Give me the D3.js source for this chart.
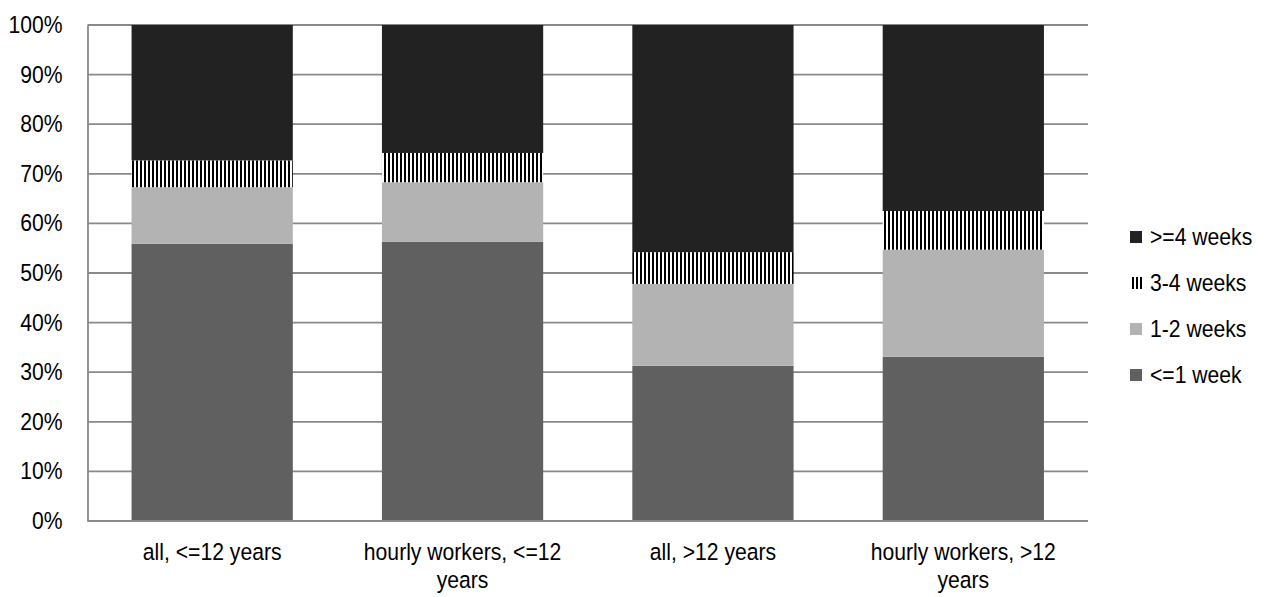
<!DOCTYPE html>
<html>
<head>
<meta charset="utf-8">
<script src="https://cdn.jsdelivr.net/npm/d3@7"></script>
<style>
  html, body { margin: 0; padding: 0; background: #fff; }
  svg text { font-family: "Liberation Sans", Arial, sans-serif; fill: #000; }
</style>
</head>
<body>
<svg id="chart" width="1270" height="597"></svg>
<script>
const categories = ["all, <=12 years", "hourly workers, <=12 years", "all, >12 years", "hourly workers, >12 years"];
const seriesNames = ["<=1 week", "1-2 weeks", "3-4 weeks", ">=4 weeks"];
const upTo1Week = [55.9, 56.3, 31.3, 33.1];
const weeks1to2 = [11.4, 12.0, 16.5, 21.6];
const weeks3to4 = [5.4, 5.9, 6.4, 7.8];
const atLeast4Weeks = [27.3, 25.8, 45.8, 37.5];
const tickValues = [0, 10, 20, 30, 40, 50, 60, 70, 80, 90, 100];

const seriesValues = [upTo1Week, weeks1to2, weeks3to4, atLeast4Weeks];
const rows = categories.map((c, i) => {
  const r = { category: c };
  seriesNames.forEach((s, j) => r[s] = seriesValues[j][i]);
  return r;
});

const FS = 23.5, SX = 0.9;
const svg = d3.select("#chart");
const x0 = 87.5, x1 = 1088, yTop = 25, yBot = 521;

const defs = svg.append("defs");
const pat = defs.append("pattern").attr("id", "hatch").attr("patternUnits", "userSpaceOnUse")
  .attr("width", 4).attr("height", 8);
pat.append("rect").attr("width", 4).attr("height", 8).attr("fill", "#fff");
pat.append("rect").attr("width", 2).attr("height", 8).attr("fill", "#000");

const fills = { "<=1 week": "#606060", "1-2 weeks": "#b3b3b3", "3-4 weeks": "url(#hatch)", ">=4 weeks": "#222222" };

const x = d3.scaleBand().domain(categories).range([x0, x1]).paddingInner(0.356).paddingOuter(0.176);
const y = d3.scaleLinear().domain([0, 100]).range([yBot, yTop]);

// gridlines
svg.append("g").selectAll("line").data(tickValues.filter(t => t > 0)).join("line")
  .attr("x1", x0).attr("x2", x1)
  .attr("y1", d => y(d)).attr("y2", d => y(d))
  .attr("stroke", "#898989").attr("stroke-width", 1.8);

// y axis
const yAxis = d3.axisLeft(y).tickValues(tickValues).tickFormat(d => d + "%").tickSize(0).tickPadding(0);
const gy = svg.append("g").attr("transform", `translate(${x0},0)`).call(yAxis);
gy.select(".domain").attr("stroke", "#898989").attr("stroke-width", 1.8);
gy.selectAll("text").attr("font-size", FS).style("font-family", null)
  .attr("x", null)
  .attr("transform", `translate(-25,0) scale(${SX},1)`);

// bars
const stack = d3.stack().keys(seriesNames);
const stacked = stack(rows);
svg.append("g").selectAll("g").data(stacked).join("g")
  .attr("fill", d => fills[d.key])
  .selectAll("rect").data(d => d).join("rect")
  .attr("x", d => x(d.data.category))
  .attr("width", x.bandwidth())
  .attr("y", d => y(d[1]))
  .attr("height", d => y(d[0]) - y(d[1]));

// x axis
const xAxis = d3.axisBottom(x).tickSize(0).tickPadding(0);
const gx = svg.append("g").attr("transform", `translate(0,${yBot})`).call(xAxis);
gx.select(".domain").attr("stroke", "#898989").attr("stroke-width", 1.8).attr("d", `M${x0},0H${x1}`);
gx.selectAll("text").attr("font-size", FS).style("font-family", null)
  .attr("y", null).attr("dy", null)
  .attr("transform", `translate(0,39) scale(${SX},1)`)
  .each(function() {
    const t = d3.select(this);
    const words = t.text().split(/\s+/);
    const maxW = 240;
    t.text(null);
    let line = [];
    let tspan = t.append("tspan").attr("x", 0).attr("y", 0);
    for (const w of words) {
      line.push(w);
      tspan.text(line.join(" "));
      if (tspan.node().getComputedTextLength() > maxW && line.length > 1) {
        line.pop();
        tspan.text(line.join(" "));
        line = [w];
        tspan = t.append("tspan").attr("x", 0).attr("dy", 28).text(w);
      }
    }
  });

// legend
const legendItems = seriesNames.slice().reverse();
const lg = svg.append("g");
const legendY = d3.scalePoint().domain(legendItems).range([237, 375]);
legendItems.forEach(name => {
  const cy = legendY(name);
  lg.append("rect").attr("x", 1130).attr("y", cy - 6).attr("width", 12).attr("height", 12)
    .attr("fill", fills[name]);
  lg.append("text").attr("transform", `translate(1150,${cy}) scale(${SX},1)`).attr("dy", "0.35em")
    .attr("font-size", FS).text(name);
});
</script>
</body>
</html>
